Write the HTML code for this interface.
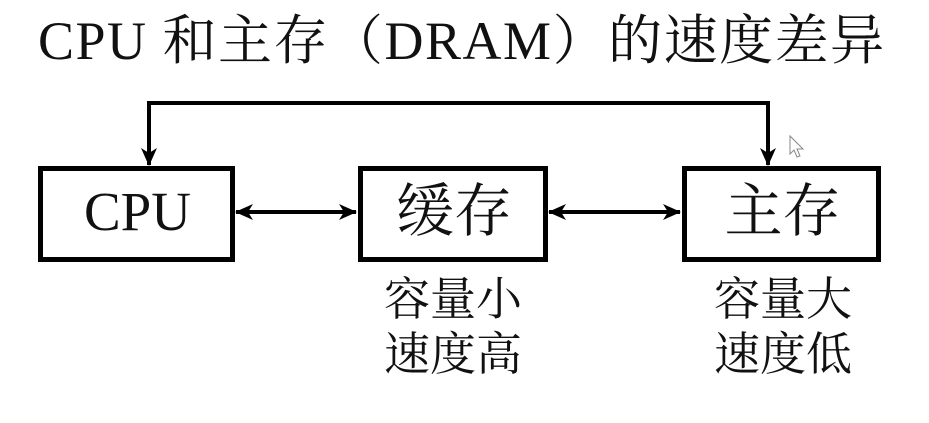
<!DOCTYPE html>
<html><head><meta charset="utf-8"><style>
body{margin:0;width:929px;height:423px;background:#fff;overflow:hidden;position:relative;font-family:"Liberation Serif","Noto Serif CJK SC",serif;color:#111}
.t{position:absolute;white-space:nowrap}
</style></head><body>
<div class="t" style="left:38px;top:6px;font-size:54px;line-height:70px;letter-spacing:1.5px">CPU 和主存（DRAM）的速度差异</div>
<svg width="929" height="423" style="position:absolute;left:0;top:0">
<defs>
<marker id="b" viewBox="0 0 18 18" markerWidth="18" markerHeight="18" refX="17" refY="9" orient="auto-start-reverse" markerUnits="userSpaceOnUse"><path d="M0,1 L18,9 L0,17 L5,9z" fill="#000"/></marker></defs>
<g fill="none" stroke="#000" stroke-width="5">
<rect x="40.5" y="168.5" width="192" height="91"/>
<rect x="360.5" y="168.5" width="185" height="91"/>
<rect x="684.5" y="168.5" width="194" height="91"/>
</g>
<g fill="none" stroke="#000" stroke-width="4">
<path d="M149,165 V103 H768 V165" marker-start="url(#b)" marker-end="url(#b)"/>
<line x1="236" y1="212" x2="356" y2="212" marker-start="url(#b)" marker-end="url(#b)"/>
<line x1="549" y1="212" x2="680" y2="212" marker-start="url(#b)" marker-end="url(#b)"/>
</g>
<path d="M790,136 L790,154 L794,150 L797,157 L800,156 L797,149 L803,149z" fill="#fff" stroke="#888" stroke-width="1"/>
</svg>
<div class="t" style="left:40px;top:180px;width:195px;text-align:center;font-size:55px;line-height:64px">CPU</div>
<div class="t" style="left:360px;top:180px;width:188px;text-align:center;font-size:58px;line-height:64px">缓存</div>
<div class="t" style="left:684px;top:180px;width:197px;text-align:center;font-size:58px;line-height:64px">主存</div>
<div class="t" style="left:384px;top:272px;font-size:46px;line-height:55px">容量小<br>速度高</div>
<div class="t" style="left:714px;top:272px;font-size:46px;line-height:55px">容量大<br>速度低</div>
</body></html>
